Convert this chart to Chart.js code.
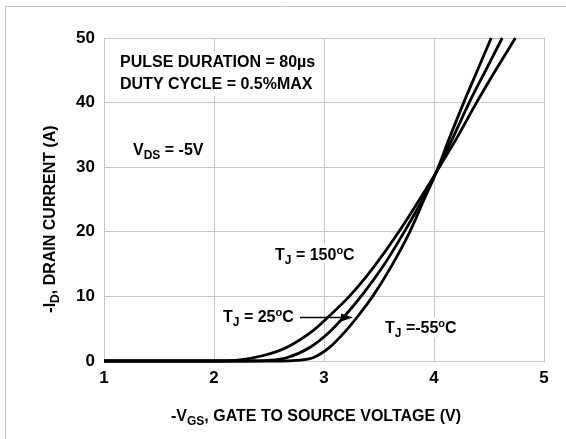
<!DOCTYPE html>
<html><head><meta charset="utf-8">
<script src="https://cdn.jsdelivr.net/npm/chart.js@4/dist/chart.umd.min.js"></script>
<style>html,body{margin:0;padding:0;background:#fff;}canvas{display:block;}</style>
</head><body>
<canvas id="c" width="566" height="439"></canvas>
<script>
// ---- data ----
const xTicks = [1, 2, 3, 4, 5];
const yTicks = [0, 10, 20, 30, 40, 50];
const vgs150 = [1, 2.0, 2.2, 2.45, 2.66, 2.9, 3.05, 3.23, 3.45, 3.68, 3.85, 4.02, 4.2, 4.38, 4.56, 4.74];
const id150  = [0, 0, 0.1, 0.85, 2.1, 4.7, 7, 10, 14.5, 20, 24.5, 29.2, 34.3, 39.8, 45, 50];
const vgs25  = [1, 2.3, 2.5, 2.66, 2.87, 3.05, 3.2, 3.36, 3.55, 3.74, 3.88, 4.02, 4.17, 4.32, 4.47, 4.62];
const id25   = [0, 0, 0.1, 0.5, 2.1, 4.5, 7.2, 10.5, 15, 20.3, 24.5, 29.2, 34.5, 40, 45, 50];
const vgsM55 = [1, 2.6, 2.75, 2.9, 3.05, 3.2, 3.32, 3.45, 3.6, 3.78, 3.91, 4.02, 4.14, 4.27, 4.4, 4.52];
const idM55  = [0, 0, 0.1, 0.5, 2.1, 4.7, 7.2, 10.2, 14.3, 20, 25, 29.2, 34.5, 40, 45.2, 50];

const pts = (xs, ys) => xs.map((x, i) => ({x: x, y: ys[i]}));
const FONT = '"Liberation Sans", Arial, sans-serif';

function rich(ctx, x, y, segs) {
  let cx = x;
  for (const s of segs) {
    ctx.font = 'bold ' + s.sz + 'px ' + FONT;
    ctx.fillText(s.t, cx, y + (s.dy || 0));
    cx += ctx.measureText(s.t).width;
  }
  return cx - x;
}
function richWidth(ctx, segs) {
  let w = 0;
  for (const s of segs) { ctx.font = 'bold ' + s.sz + 'px ' + FONT; w += ctx.measureText(s.t).width; }
  return w;
}

const annot = {
  id: 'annot',
  beforeDatasetsDraw(chart) {
    const ctx = chart.ctx;
    ctx.save();
    ctx.fillStyle = '#fff';
    ctx.fillRect(116, 51, 180, 45);
    ctx.fillRect(272, 244, 86, 19);
    ctx.fillRect(220, 307, 78, 19);
    ctx.fillRect(382, 317, 80, 20);
    ctx.fillStyle = '#000';
    ctx.textBaseline = 'alphabetic';
    rich(ctx, 120, 67, [{t: 'PULSE DURATION = 80\u00B5s', sz: 16}]);
    rich(ctx, 120, 89, [{t: 'DUTY CYCLE = 0.5%MAX', sz: 16}]);
    rich(ctx, 133, 155, [{t: 'V', sz: 16}, {t: 'DS', sz: 12, dy: 4}, {t: ' = -5V', sz: 16}]);
    rich(ctx, 275, 260, [{t: 'T', sz: 16}, {t: 'J', sz: 12, dy: 4}, {t: ' = 150', sz: 16}, {t: 'o', sz: 11, dy: -6}, {t: 'C', sz: 16}]);
    rich(ctx, 223, 322, [{t: 'T', sz: 16}, {t: 'J', sz: 12, dy: 4}, {t: ' = 25', sz: 16}, {t: 'o', sz: 11, dy: -6}, {t: 'C', sz: 16}]);
    rich(ctx, 385, 333, [{t: 'T', sz: 16}, {t: 'J', sz: 12, dy: 4}, {t: ' =-55', sz: 16}, {t: 'o', sz: 11, dy: -6}, {t: 'C', sz: 16}]);
    // arrow
    ctx.strokeStyle = '#000'; ctx.lineWidth = 1.5;
    ctx.beginPath(); ctx.moveTo(300, 317.5); ctx.lineTo(344, 317.5); ctx.stroke();
    ctx.beginPath(); ctx.moveTo(353, 317.5); ctx.lineTo(341, 313.5); ctx.lineTo(341, 321.5); ctx.closePath(); ctx.fill();
    // axis titles
    const xt = [{t: '-V', sz: 16}, {t: 'GS', sz: 12, dy: 4}, {t: ', GATE TO SOURCE VOLTAGE (V)', sz: 16}];
    const w = richWidth(ctx, xt);
    rich(ctx, 316 - w / 2, 421, xt);
    const yt = [{t: '-I', sz: 16}, {t: 'D', sz: 12, dy: 4}, {t: ', DRAIN CURRENT (A)', sz: 16}];
    const wy = richWidth(ctx, yt);
    ctx.translate(55, 219);
    ctx.rotate(-Math.PI / 2);
    rich(ctx, -wy / 2, 0, yt);
    ctx.restore();
    // frame
    ctx.save();
    ctx.strokeStyle = '#c4c4c4'; ctx.lineWidth = 1;
    ctx.beginPath(); ctx.moveTo(5.5, 439); ctx.lineTo(5.5, 6.5); ctx.lineTo(566, 6.5); ctx.stroke();
    ctx.restore();
  }
};

const lineDs = (label, xs, ys) => ({
  label: label, data: pts(xs, ys), borderColor: '#000', backgroundColor: '#000',
  borderWidth: 2.8, pointRadius: 0, fill: false, cubicInterpolationMode: 'monotone'
});

new Chart(document.getElementById('c'), {
  type: 'line',
  data: { datasets: [
    lineDs('TJ = 150°C', vgs150, id150),
    lineDs('TJ = 25°C', vgs25, id25),
    lineDs('TJ = -55°C', vgsM55, idM55)
  ]},
  options: {
    responsive: false, animation: false, devicePixelRatio: 1,
    layout: { padding: { top: 38, right: 22, left: 0, bottom: 0 } },
    plugins: { legend: { display: false }, tooltip: { enabled: false } },
    clip: false,
    scales: {
      x: {
        type: 'linear', min: 1, max: 5,
        afterBuildTicks: s => { s.ticks = xTicks.map(v => ({value: v})); },
        afterFit: s => { s.height = 78; },
        grid: { color: '#c8c8c8', lineWidth: 1, drawTicks: false },
        border: { color: '#c8c8c8' },
        ticks: { color: '#000', padding: 7, font: { family: FONT, size: 17, weight: 'bold' }, maxRotation: 0 }
      },
      y: {
        type: 'linear', min: 0, max: 50,
        afterBuildTicks: s => { s.ticks = yTicks.map(v => ({value: v})); },
        afterFit: s => { s.width = 104; },
        grid: { color: '#c8c8c8', lineWidth: 1, drawTicks: false },
        border: { color: '#c8c8c8' },
        ticks: { color: '#000', padding: 9, font: { family: FONT, size: 17, weight: 'bold' } }
      }
    }
  },
  plugins: [annot]
});
</script>
</body></html>
